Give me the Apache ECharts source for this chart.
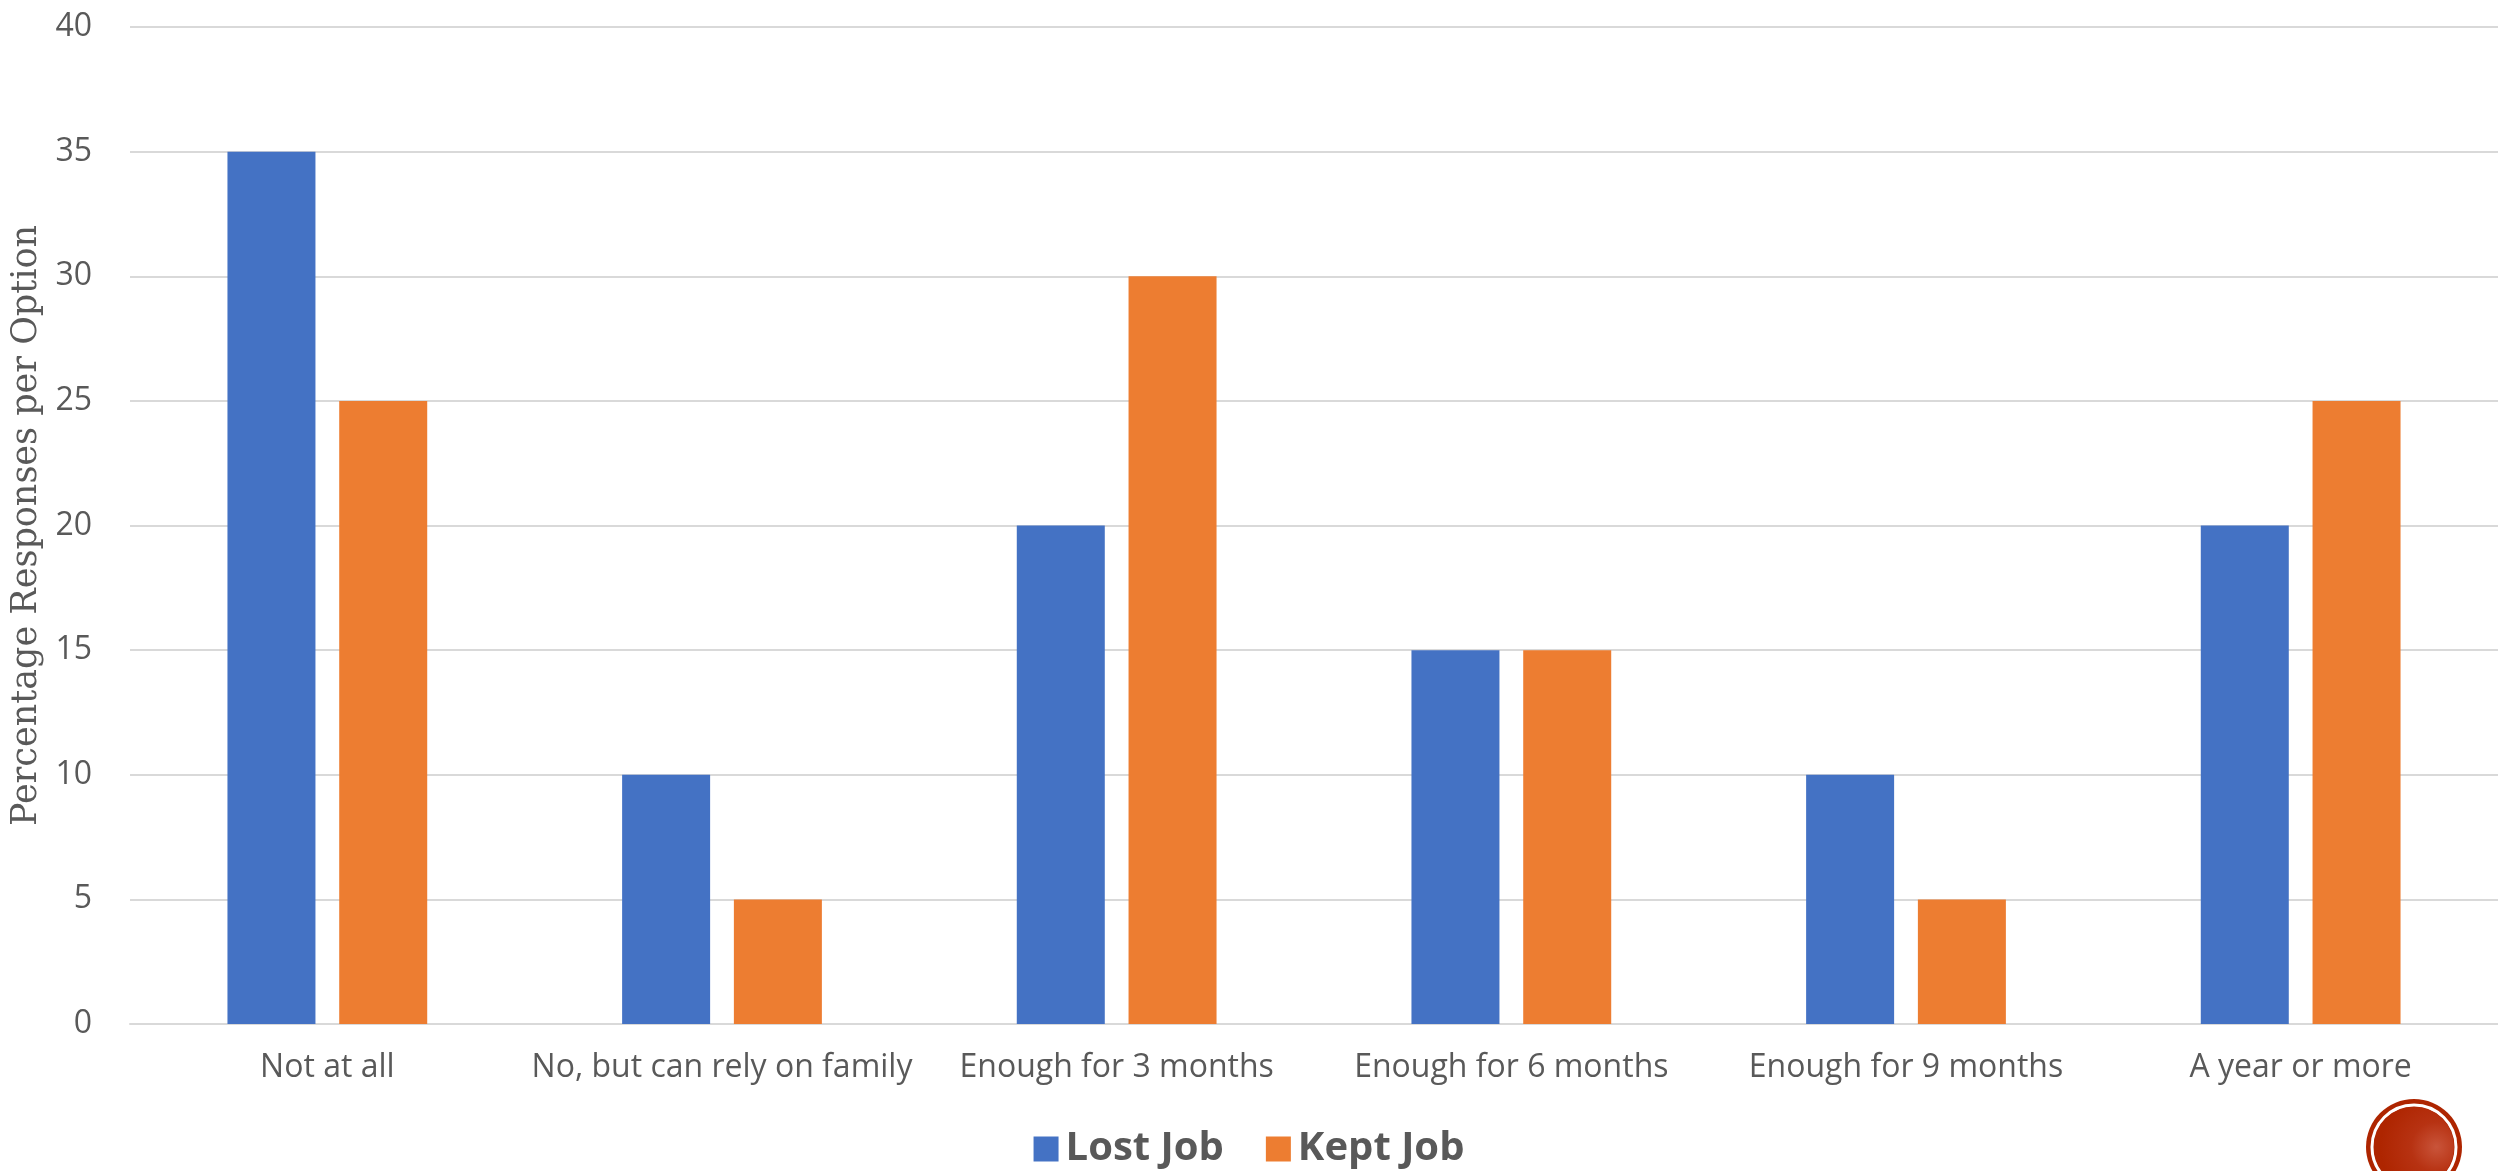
<!DOCTYPE html>
<html>
<head>
<meta charset="utf-8">
<title>Savings by job status</title>
<script src="https://cdn.jsdelivr.net/npm/echarts@6/dist/echarts.min.js"></script>
<style>
  html, body { margin: 0; padding: 0; background: #ffffff; }
  #chart { width: 2498px; height: 1171px; }
</style>
</head>
<body>
<div id="chart"></div>
<script>
// Survey options (x axis)
const categories = [
  'Not at all',
  'No, but can rely on family',
  'Enough for 3 months',
  'Enough for 6 months',
  'Enough for 9 months',
  'A year or more'
];
// Percentage of responses per option
const lostJob = [35, 10, 20, 15, 10, 20];
const keptJob = [25, 5, 30, 15, 5, 25];
const seriesNames = ['Lost Job', 'Kept Job'];

const textColor = '#595959';
const gridColor = '#D9D9D9';

const chart = echarts.init(document.getElementById('chart'), null, { renderer: 'canvas' });

chart.setOption({
  animation: false,
  backgroundColor: '#ffffff',
  color: ['#4472C4', '#ED7D31'],
  grid: { left: 130, right: -4, top: 27, bottom: 147, containLabel: false },
  legend: {
    data: seriesNames,
    left: 'center',
    top: 1124,
    itemWidth: 25,
    itemHeight: 25,
    itemGap: 42,
    icon: 'rect',
    textStyle: {
      fontFamily: 'Open Sans',
      fontWeight: 'bold',
      fontSize: 40,
      color: textColor,
      padding: [0, 0, 0, 2]
    }
  },
  xAxis: {
    type: 'category',
    data: categories,
    axisLine: { show: true, lineStyle: { color: gridColor, width: 2 } },
    axisTick: { show: false },
    axisLabel: {
      interval: 0,
      margin: 28,
      fontFamily: 'Open Sans',
      fontSize: 32,
      color: textColor
    }
  },
  yAxis: {
    type: 'value',
    min: 0,
    max: 40,
    interval: 5,
    name: 'Percentage Responses per Option',
    nameLocation: 'middle',
    nameGap: 78,
    nameTextStyle: {
      fontFamily: 'DejaVu Serif',
      fontSize: 35,
      color: textColor
    },
    axisLine: { show: false },
    axisTick: { show: false },
    splitLine: { lineStyle: { color: gridColor, width: 2 } },
    axisLabel: {
      margin: 38,
      fontFamily: 'Open Sans',
      fontSize: 32,
      color: textColor
    }
  },
  series: [
    { name: seriesNames[0], type: 'bar', data: lostJob, barWidth: 88, barGap: '27%' },
    { name: seriesNames[1], type: 'bar', data: keptJob, barWidth: 88, barGap: '27%' }
  ],
  graphic: [
    // template badge in the bottom-right corner
    {
      type: 'group',
      left: 2366,
      top: 1099,
      children: [
        { type: 'circle', shape: { cx: 48, cy: 48, r: 48 }, style: { fill: '#AE2500' } },
        { type: 'circle', shape: { cx: 48, cy: 48, r: 42 }, style: { fill: 'none', stroke: '#ffffff', lineWidth: 3 } },
        {
          type: 'circle',
          shape: { cx: 48, cy: 48, r: 40 },
          style: {
            fill: {
              type: 'radial', x: 0.78, y: 0.5, r: 0.7,
              colorStops: [
                { offset: 0, color: '#C9543A' },
                { offset: 0.45, color: '#B73212' },
                { offset: 1, color: '#AE2500' }
              ]
            }
          }
        }
      ]
    }
  ]
});
</script>
</body>
</html>
